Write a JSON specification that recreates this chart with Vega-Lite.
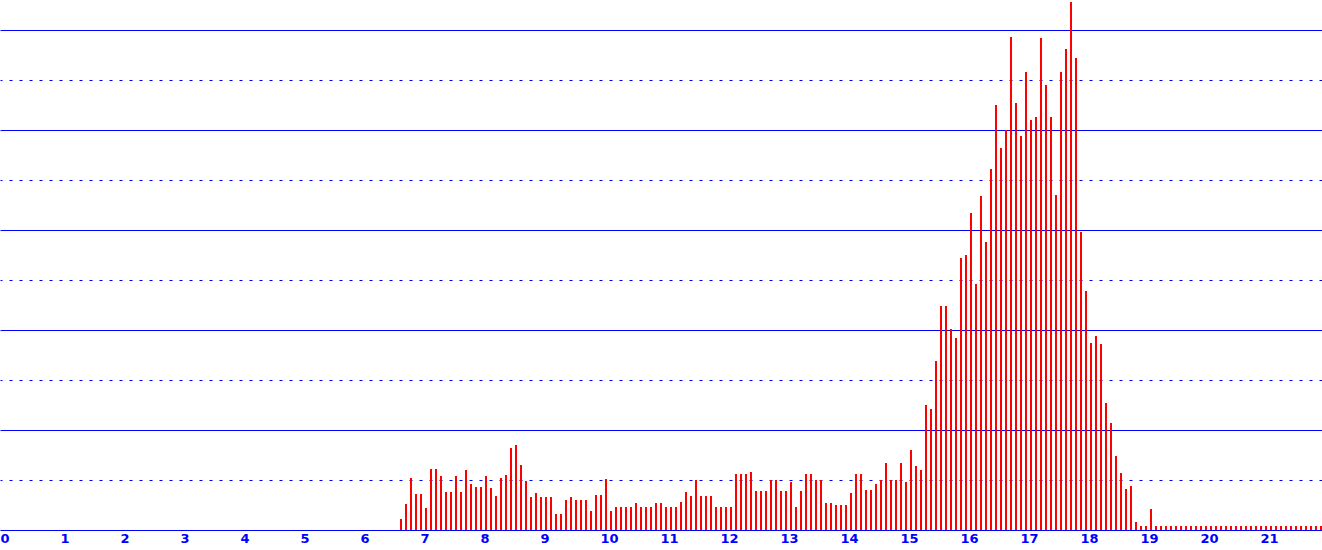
{
  "$schema": "https://vega.github.io/schema/vega-lite/v6.json",
  "width": 1322,
  "height": 530,
  "autosize": {"type": "none"},
  "padding": {"left": 0, "top": 0, "right": 0, "bottom": 20},
  "background": "#ffffff",
  "config": {"view": {"stroke": null}},
  "data": {"values": [
    {"x": 6.6667, "y": 2.2}, {"x": 6.75, "y": 5.2}, {"x": 6.8333, "y": 10.4}, {"x": 6.9167, "y": 7.2},
    {"x": 7, "y": 7.2}, {"x": 7.0833, "y": 4.4}, {"x": 7.1667, "y": 12.2}, {"x": 7.25, "y": 12.2}, {"x": 7.3333, "y": 10.8}, {"x": 7.4167, "y": 7.6}, {"x": 7.5, "y": 7.6}, {"x": 7.5833, "y": 10.8}, {"x": 7.6667, "y": 7.6}, {"x": 7.75, "y": 12}, {"x": 7.8333, "y": 9.2}, {"x": 7.9167, "y": 8.6},
    {"x": 8, "y": 8.6}, {"x": 8.0833, "y": 10.8}, {"x": 8.1667, "y": 8.4}, {"x": 8.25, "y": 6.8}, {"x": 8.3333, "y": 10.4}, {"x": 8.4167, "y": 11}, {"x": 8.5, "y": 16.4}, {"x": 8.5833, "y": 17}, {"x": 8.6667, "y": 13}, {"x": 8.75, "y": 9.8}, {"x": 8.8333, "y": 6.6}, {"x": 8.9167, "y": 7.4},
    {"x": 9, "y": 6.6}, {"x": 9.0833, "y": 6.6}, {"x": 9.1667, "y": 6.6}, {"x": 9.25, "y": 3.2}, {"x": 9.3333, "y": 3.2}, {"x": 9.4167, "y": 6}, {"x": 9.5, "y": 6.6}, {"x": 9.5833, "y": 6}, {"x": 9.6667, "y": 6}, {"x": 9.75, "y": 6}, {"x": 9.8333, "y": 3.8}, {"x": 9.9167, "y": 7},
    {"x": 10, "y": 7}, {"x": 10.0833, "y": 10.2}, {"x": 10.1667, "y": 3.8}, {"x": 10.25, "y": 4.6}, {"x": 10.3333, "y": 4.6}, {"x": 10.4167, "y": 4.6}, {"x": 10.5, "y": 4.6}, {"x": 10.5833, "y": 5.4}, {"x": 10.6667, "y": 4.6}, {"x": 10.75, "y": 4.6}, {"x": 10.8333, "y": 4.6}, {"x": 10.9167, "y": 5.4},
    {"x": 11, "y": 5.4}, {"x": 11.0833, "y": 4.6}, {"x": 11.1667, "y": 4.6}, {"x": 11.25, "y": 4.6}, {"x": 11.3333, "y": 5.6}, {"x": 11.4167, "y": 7.6}, {"x": 11.5, "y": 6.8}, {"x": 11.5833, "y": 10}, {"x": 11.6667, "y": 6.8}, {"x": 11.75, "y": 6.8}, {"x": 11.8333, "y": 6.8}, {"x": 11.9167, "y": 4.6},
    {"x": 12, "y": 4.6}, {"x": 12.0833, "y": 4.6}, {"x": 12.1667, "y": 4.6}, {"x": 12.25, "y": 11.2}, {"x": 12.3333, "y": 11.2}, {"x": 12.4167, "y": 11.2}, {"x": 12.5, "y": 11.6}, {"x": 12.5833, "y": 7.8}, {"x": 12.6667, "y": 7.8}, {"x": 12.75, "y": 7.8}, {"x": 12.8333, "y": 10}, {"x": 12.9167, "y": 10},
    {"x": 13, "y": 7.8}, {"x": 13.0833, "y": 7.8}, {"x": 13.1667, "y": 9.6}, {"x": 13.25, "y": 4.6}, {"x": 13.3333, "y": 7.8}, {"x": 13.4167, "y": 11.2}, {"x": 13.5, "y": 11.2}, {"x": 13.5833, "y": 10}, {"x": 13.6667, "y": 10}, {"x": 13.75, "y": 5.4}, {"x": 13.8333, "y": 5.4}, {"x": 13.9167, "y": 5},
    {"x": 14, "y": 5}, {"x": 14.0833, "y": 5}, {"x": 14.1667, "y": 7.4}, {"x": 14.25, "y": 11.2}, {"x": 14.3333, "y": 11.2}, {"x": 14.4167, "y": 8}, {"x": 14.5, "y": 8}, {"x": 14.5833, "y": 9.2}, {"x": 14.6667, "y": 10}, {"x": 14.75, "y": 13.4}, {"x": 14.8333, "y": 10}, {"x": 14.9167, "y": 10},
    {"x": 15, "y": 13.4}, {"x": 15.0833, "y": 9.6}, {"x": 15.1667, "y": 16}, {"x": 15.25, "y": 12.8}, {"x": 15.3333, "y": 12}, {"x": 15.4167, "y": 25}, {"x": 15.5, "y": 24.2}, {"x": 15.5833, "y": 33.8}, {"x": 15.6667, "y": 44.8}, {"x": 15.75, "y": 44.8}, {"x": 15.8333, "y": 40.2}, {"x": 15.9167, "y": 38.4},
    {"x": 16, "y": 54.4}, {"x": 16.0833, "y": 55}, {"x": 16.1667, "y": 63.4}, {"x": 16.25, "y": 49.2}, {"x": 16.3333, "y": 66.8}, {"x": 16.4167, "y": 57.6}, {"x": 16.5, "y": 72.2}, {"x": 16.5833, "y": 85}, {"x": 16.6667, "y": 76.4}, {"x": 16.75, "y": 80}, {"x": 16.8333, "y": 98.6}, {"x": 16.9167, "y": 85.4},
    {"x": 17, "y": 78.8}, {"x": 17.0833, "y": 91.6}, {"x": 17.1667, "y": 82}, {"x": 17.25, "y": 82.6}, {"x": 17.3333, "y": 98.4}, {"x": 17.4167, "y": 89}, {"x": 17.5, "y": 82.6}, {"x": 17.5833, "y": 67}, {"x": 17.6667, "y": 91.6}, {"x": 17.75, "y": 96.2}, {"x": 17.8333, "y": 105.6}, {"x": 17.9167, "y": 94.4},
    {"x": 18, "y": 59.6}, {"x": 18.0833, "y": 47.8}, {"x": 18.1667, "y": 37.4}, {"x": 18.25, "y": 38.8}, {"x": 18.3333, "y": 37.2}, {"x": 18.4167, "y": 25.4}, {"x": 18.5, "y": 21.4}, {"x": 18.5833, "y": 14.8}, {"x": 18.6667, "y": 11.4}, {"x": 18.75, "y": 8.2}, {"x": 18.8333, "y": 8.8}, {"x": 18.9167, "y": 1.6},
    {"x": 19, "y": 0.8}, {"x": 19.0833, "y": 0.8}, {"x": 19.1667, "y": 4.2}, {"x": 19.25, "y": 0.8}, {"x": 19.3333, "y": 0.8}, {"x": 19.4167, "y": 0.8}, {"x": 19.5, "y": 0.8}, {"x": 19.5833, "y": 0.8}, {"x": 19.6667, "y": 0.8}, {"x": 19.75, "y": 0.8}, {"x": 19.8333, "y": 0.8}, {"x": 19.9167, "y": 0.8},
    {"x": 20, "y": 0.8}, {"x": 20.0833, "y": 0.8}, {"x": 20.1667, "y": 0.8}, {"x": 20.25, "y": 0.8}, {"x": 20.3333, "y": 0.8}, {"x": 20.4167, "y": 0.8}, {"x": 20.5, "y": 0.8}, {"x": 20.5833, "y": 0.8}, {"x": 20.6667, "y": 0.8}, {"x": 20.75, "y": 0.8}, {"x": 20.8333, "y": 0.8}, {"x": 20.9167, "y": 0.8},
    {"x": 21, "y": 0.8}, {"x": 21.0833, "y": 0.8}, {"x": 21.1667, "y": 0.8}, {"x": 21.25, "y": 0.8}, {"x": 21.3333, "y": 0.8}, {"x": 21.4167, "y": 0.8}, {"x": 21.5, "y": 0.8}, {"x": 21.5833, "y": 0.8}, {"x": 21.6667, "y": 0.8}, {"x": 21.75, "y": 0.8}, {"x": 21.8333, "y": 0.8}, {"x": 21.9167, "y": 0.8},
    {"x": 22, "y": 0.8}
  ]},
  "mark": {"type": "rule", "color": "#ff0000", "strokeWidth": 2, "xOffset": 1},
  "encoding": {
    "x": {
      "field": "x", "type": "quantitative",
      "scale": {"domain": [0, 22.03333], "nice": false, "zero": false},
      "axis": {
        "values": [0,1,2,3,4,5,6,7,8,9,10,11,12,13,14,15,16,17,18,19,20,21],
        "title": null, "grid": false, "domain": false, "ticks": false,
        "labelAlign": "left", "labelBaseline": "top", "labelPadding": 2,
        "labelFont": "DejaVu Sans", "labelFontWeight": "bold", "labelFontSize": 13,
        "labelColor": "#0000ff", "labelFlush": false, "labelOverlap": false, "labelBound": false
      }
    },
    "y": {
      "field": "y", "type": "quantitative",
      "scale": {"domain": [0, 106], "nice": false, "zero": true},
      "axis": {
        "values": [0,10,20,30,40,50,60,70,80,90,100],
        "title": null, "labels": false, "ticks": false, "domain": false,
        "grid": true, "gridColor": "#0000ff", "gridOpacity": 1, "gridWidth": 1,
        "gridDash": {"condition": {"test": "datum.value % 20 === 10", "value": [3, 7]}, "value": []},
        "gridDashOffset": 1
      }
    },
    "y2": {"datum": 0}
  }
}
